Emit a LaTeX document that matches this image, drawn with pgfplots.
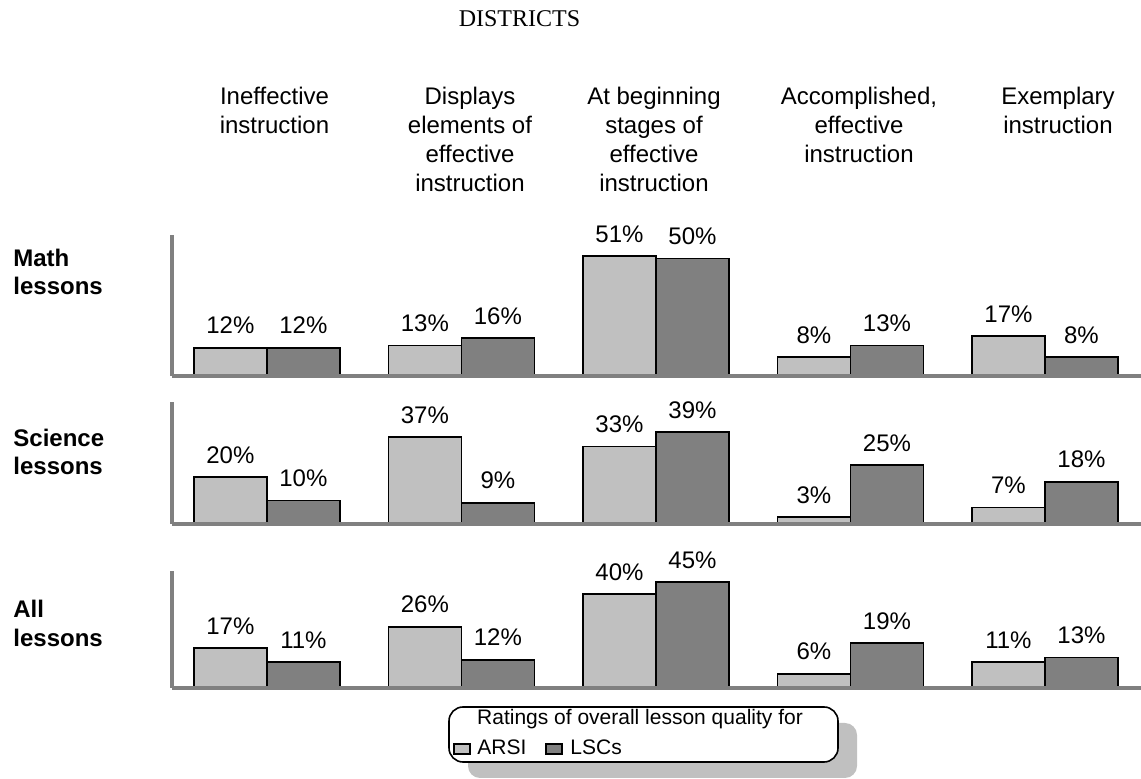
\documentclass[border=0pt]{standalone}
\usepackage{fontspec}
\setmainfont{Liberation Sans}
\newfontfamily\serifttl{Liberation Serif}
\usepackage{pgfplots}
\pgfplotsset{compat=1.18}
\definecolor{arsi}{HTML}{C0C0C0}
\definecolor{lsc}{HTML}{808080}
\pgfplotsset{panel/.style={
  anchor=south west,
  x=97.25pt, y=1.175pt,
  xmin=-0.488, xmax=4.5, ymin=0,
  axis x line=bottom, axis y line=left,
  axis line style={-, draw=lsc, line width=1.75pt},
  xtick=\empty, ytick=\empty,
  ybar=0pt, bar width=36.5pt,
  axis on top,
  clip=false,
  /pgf/number format/assume math mode=true,
  nodes near coords={\pgfmathprintnumber{\pgfplotspointmeta}\%},
  every node near coord/.append style={font=\fontsize{12}{14}\selectfont, anchor=south, inner sep=0pt, yshift=6.4pt, text=black},
}}
\newcommand\hdr[3]{\node[anchor=base, font=\fontsize{12}{14}\selectfont, inner sep=0pt] at (#1,#2) {#3};}
\newcommand\rowl[2]{\node[anchor=base west, font=\fontsize{12}{14}\bfseries, inner sep=0pt] at (13,#1) {#2};}
\begin{document}
\begin{tikzpicture}
\useasboundingbox (0,0) rectangle (570.5pt,-389.5pt);
% Math
\begin{axis}[panel, at={(86pt,-188pt)}, ymax=60]
\addplot[fill=arsi, draw=black, line width=0.9pt] coordinates {(0,12) (1,13) (2,51) (3,8) (4,17)};
\addplot[fill=lsc, draw=black, line width=0.9pt] coordinates {(0,12) (1,16) (2,50) (3,13) (4,8)};
\end{axis}
% Science
\begin{axis}[panel, at={(86pt,-262pt)}, ymax=52]
\addplot[fill=arsi, draw=black, line width=0.9pt] coordinates {(0,20) (1,37) (2,33) (3,3) (4,7)};
\addplot[fill=lsc, draw=black, line width=0.9pt] coordinates {(0,10) (1,9) (2,39) (3,25) (4,18)};
\end{axis}
% All
\begin{axis}[panel, at={(86pt,-344pt)}, ymax=50]
\addplot[fill=arsi, draw=black, line width=0.9pt] coordinates {(0,17) (1,26) (2,40) (3,6) (4,11)};
\addplot[fill=lsc, draw=black, line width=0.9pt] coordinates {(0,11) (1,12) (2,45) (3,19) (4,13)};
\end{axis}
\begin{scope}[x=0.5pt, y=-0.5pt]
\node[anchor=base, font=\serifttl\fontsize{12}{14}\selectfont, inner sep=0pt] at (519.5,27) {DISTRICTS};
\hdr{274.5}{105}{Ineffective}
\hdr{274.5}{134}{instruction}
\hdr{470}{105}{Displays}
\hdr{470}{134}{elements of}
\hdr{470}{163}{effective}
\hdr{470}{192}{instruction}
\hdr{654}{105}{At beginning}
\hdr{654}{134}{stages of}
\hdr{654}{163}{effective}
\hdr{654}{192}{instruction}
\hdr{859}{105}{Accomplished,}
\hdr{859}{134}{effective}
\hdr{859}{163}{instruction}
\hdr{1058}{105}{Exemplary}
\hdr{1058}{134}{instruction}
\rowl{267}{Math}
\rowl{295}{lessons}
\rowl{447}{Science}
\rowl{475}{lessons}
\rowl{618}{All}
\rowl{647}{lessons}
% legend
\fill[arsi, rounded corners=6pt] (468,723) rectangle (857,778);
\draw[black, fill=white, line width=0.8pt, rounded corners=7pt] (449,707) rectangle (838,762);
\node[anchor=base, font=\fontsize{10.5}{12}\selectfont, inner sep=0pt] at (640,725) {Ratings of overall lesson quality for};
\draw[fill=arsi, line width=0.6pt] (454,744) rectangle (470,754);
\node[anchor=base west, font=\fontsize{10.5}{12}\selectfont, inner sep=0pt] at (477,755) {ARSI};
\draw[fill=lsc, line width=0.6pt] (546,744) rectangle (562,754);
\node[anchor=base west, font=\fontsize{10.5}{12}\selectfont, inner sep=0pt] at (570,755) {LSCs};
\end{scope}
\end{tikzpicture}
\end{document}
